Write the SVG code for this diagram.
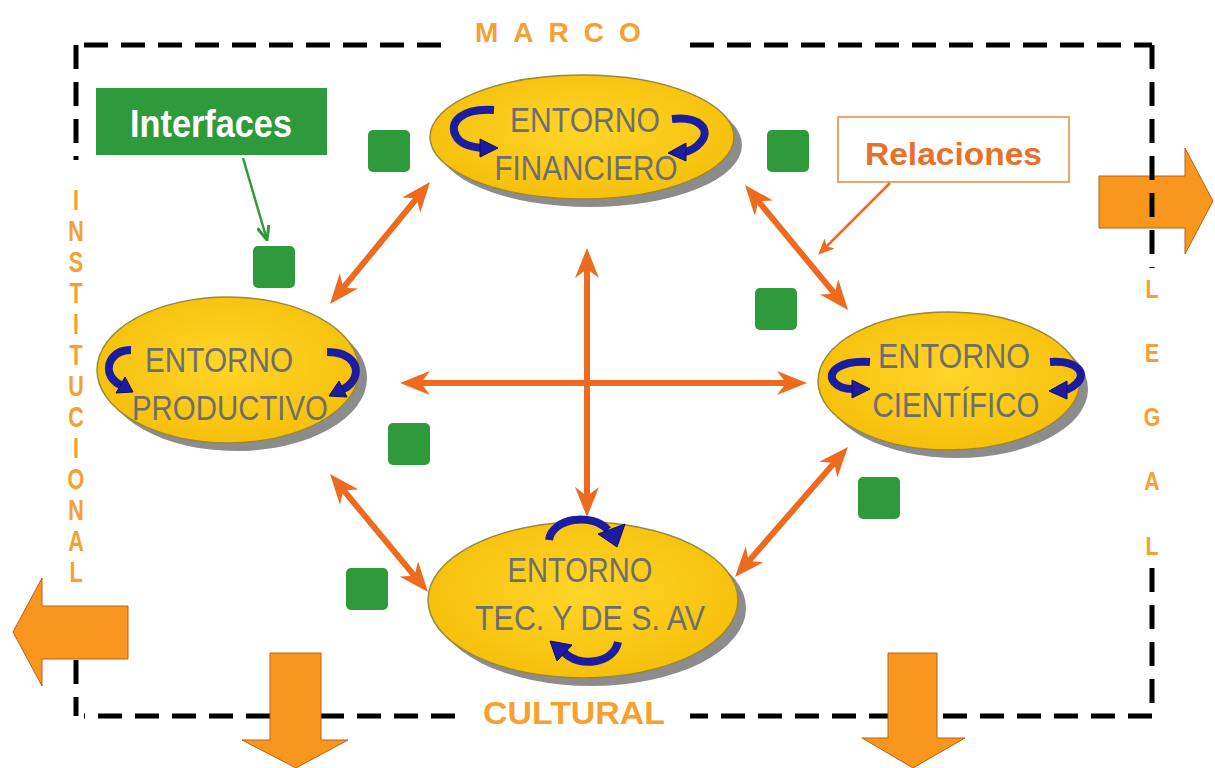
<svg xmlns="http://www.w3.org/2000/svg" width="1215" height="768" viewBox="0 0 1215 768">
<style>
.dash{fill:none;stroke:#000;stroke-width:5;stroke-dasharray:24 13}
.big{fill:#F8961E;stroke:#B8601A;stroke-width:1}
.shadow{fill:#8C8C8C}
.ell{fill:url(#gold);stroke:#9A8838;stroke-width:1.5}
.nt{font-family:"Liberation Sans Narrow","Liberation Sans",Arial,sans-serif;font-size:35px;fill:#6E6E6E;text-anchor:middle}
.curl{fill:none;stroke:#1C1CA0;stroke-width:8}
.curlh{fill:#1C1CA0;stroke:#0D0D60;stroke-width:1}
.rel{fill:none;stroke:#EE6A1E;stroke-width:6}
.sq{fill:#2E9A3C}
.frame{font-family:"Liberation Sans",Arial,sans-serif;font-weight:bold;fill:#F5A030}
</style>
<defs>
<radialGradient id="gold" cx="50%" cy="45%" r="60%">
<stop offset="0" stop-color="#FFD52A"/>
<stop offset="1" stop-color="#F5BE08"/>
</radialGradient>
<marker id="oa" viewBox="0 0 30 24" refX="18" refY="12" markerWidth="30" markerHeight="24" markerUnits="userSpaceOnUse" orient="auto-start-reverse">
<path d="M0,0 L30,12 L0,24 L9,12 Z" fill="#EE6A1E"/>
</marker>
<marker id="sa" viewBox="0 0 16 14" refX="12" refY="7" markerWidth="16" markerHeight="14" markerUnits="userSpaceOnUse" orient="auto">
<path d="M0,0 L16,7 L0,14 L4,7 Z" fill="#EE6A1E"/>
</marker>
<marker id="ga" viewBox="0 0 16 14" refX="15" refY="7" markerWidth="16" markerHeight="14" markerUnits="userSpaceOnUse" orient="auto">
<path d="M1,1 L15,7 L1,13" fill="none" stroke="#2E9A3C" stroke-width="3"/>
</marker>
</defs>
<rect width="1215" height="768" fill="#fff"/>

<g id="arrow-right"><polygon class="big" points="1099,176 1185,176 1185,148 1213,201 1185,254 1185,228 1099,228"/></g>

<g id="frame">
<path class="dash" d="M76,45 V160"/>
<path class="dash" d="M84,45 H445"/>
<path class="dash" d="M690,45 H1152"/>
<path class="dash" d="M1152,45 V268"/>
<path class="dash" d="M1152,568 V716 H690"/>
<path class="dash" d="M455,716 H84"/>
<path class="dash" d="M76,660 V716"/>
<text class="frame" x="475" y="42" font-size="28" letter-spacing="15">MARCO</text>
<text class="frame" x="483" y="724" font-size="31" textLength="182" lengthAdjust="spacingAndGlyphs">CULTURAL</text>
<text class="frame" font-size="30" transform="translate(76,0) scale(0.72,1)" text-anchor="middle"><tspan x="0" y="210">I</tspan><tspan x="0" y="241">N</tspan><tspan x="0" y="272">S</tspan><tspan x="0" y="303">T</tspan><tspan x="0" y="334">I</tspan><tspan x="0" y="365">T</tspan><tspan x="0" y="396">U</tspan><tspan x="0" y="427">C</tspan><tspan x="0" y="458">I</tspan><tspan x="0" y="489">O</tspan><tspan x="0" y="520">N</tspan><tspan x="0" y="551">A</tspan><tspan x="0" y="582">L</tspan></text>
<text class="frame" font-size="25" transform="translate(1152,0) scale(0.85,1)" text-anchor="middle"><tspan x="0" y="298">L</tspan><tspan x="0" y="362">E</tspan><tspan x="0" y="426">G</tspan><tspan x="0" y="490">A</tspan><tspan x="0" y="555">L</tspan></text>
</g>

<g id="arrow-left"><polygon class="big" points="128,606 42,606 42,578 13,632 42,686 42,659 128,659"/></g>
<g id="arrow-down-left"><polygon class="big" points="270,653 321,653 321,740 348,740 296,768 242,740 270,740"/></g>
<g id="arrow-down-right"><polygon class="big" points="888,653 937,653 937,738 965,738 913,768 862,738 888,738"/></g>

<g id="connectors">
<line class="rel" x1="422.4" y1="191.3" x2="337.6" y2="294.7" marker-start="url(#oa)" marker-end="url(#oa)"/>
<line class="rel" x1="752.6" y1="194.3" x2="840.4" y2="300.7" marker-start="url(#oa)" marker-end="url(#oa)"/>
<line class="rel" x1="587" y1="260" x2="587" y2="505" marker-start="url(#oa)" marker-end="url(#oa)"/>
<line class="rel" x1="412" y1="383" x2="795" y2="383" marker-start="url(#oa)" marker-end="url(#oa)"/>
<line class="rel" x1="337.7" y1="483.2" x2="420.3" y2="582.8" marker-start="url(#oa)" marker-end="url(#oa)"/>
<line class="rel" x1="840.1" y1="456.1" x2="742.9" y2="567.9" marker-start="url(#oa)" marker-end="url(#oa)"/>
<line x1="890" y1="183" x2="821" y2="252" stroke="#EE6A1E" stroke-width="2.5" marker-end="url(#sa)"/>
<line x1="243" y1="158" x2="267" y2="240" stroke="#2E9A3C" stroke-width="2.5" marker-end="url(#ga)"/>
</g>

<g id="interfaces">
<rect x="96" y="88" width="231" height="67" fill="#2E9A3C"/>
<text x="211" y="137" font-family="Liberation Sans Narrow,Liberation Sans,Arial,sans-serif" font-weight="bold" font-size="38" fill="#fff" text-anchor="middle" textLength="162" lengthAdjust="spacingAndGlyphs">Interfaces</text>
</g>

<g id="relaciones">
<rect x="838" y="117" width="231" height="65" fill="#fff" stroke="#E8893A" stroke-width="1.5"/>
<text x="953.5" y="165" font-family="Liberation Sans,Arial,sans-serif" font-weight="bold" font-size="32" fill="#E8702A" text-anchor="middle" textLength="177" lengthAdjust="spacingAndGlyphs">Relaciones</text>
</g>

<g id="interface-squares">
<rect class="sq" x="368" y="130" width="42" height="42" rx="5"/>
<rect class="sq" x="767" y="130" width="42" height="42" rx="5"/>
<rect class="sq" x="253" y="246" width="42" height="42" rx="5"/>
<rect class="sq" x="755" y="288" width="42" height="42" rx="5"/>
<rect class="sq" x="388" y="423" width="42" height="42" rx="5"/>
<rect class="sq" x="858" y="477" width="42" height="42" rx="5"/>
<rect class="sq" x="346" y="568" width="42" height="42" rx="5"/>
</g>

<g id="entorno-financiero">
<ellipse class="shadow" cx="590" cy="145" rx="152" ry="62"/>
<ellipse class="ell" cx="582" cy="137" rx="152" ry="62"/>
<text class="nt" x="585" y="132" textLength="150" lengthAdjust="spacingAndGlyphs">ENTORNO</text>
<text class="nt" x="586" y="180" textLength="183" lengthAdjust="spacingAndGlyphs">FINANCIERO</text>
<path class="curl" d="M494,110 C462,108 448,122 456,136 C460,144 470,147 482,148"/>
<polygon class="curlh" points="480,139 498,148 480,157"/>
<path class="curl" d="M672,119 C700,116 712,130 700,143 C695,149 690,151 684,152"/>
<polygon class="curlh" points="686,143 668,153 686,161"/>
</g>

<g id="entorno-productivo">
<ellipse class="shadow" cx="236" cy="378" rx="131" ry="73"/>
<ellipse class="ell" cx="228" cy="370" rx="131" ry="73"/>
<text class="nt" x="219" y="372" textLength="148" lengthAdjust="spacingAndGlyphs">ENTORNO</text>
<text class="nt" x="230" y="420" textLength="196" lengthAdjust="spacingAndGlyphs">PRODUCTIVO</text>
<path class="curl" d="M131,350 C112,350 104,366 112,378 C115,382 118,384 121,385"/>
<polygon class="curlh" points="116,393 133,392 125,377"/>
<path class="curl" d="M327,352 C352,352 362,368 352,382 C349,386 346,388 343,389"/>
<polygon class="curlh" points="347,397 329,396 339,381"/>
</g>

<g id="entorno-cientifico">
<ellipse class="shadow" cx="957" cy="389" rx="131" ry="69"/>
<ellipse class="ell" cx="949" cy="381" rx="131" ry="69"/>
<text class="nt" x="954" y="368" textLength="152" lengthAdjust="spacingAndGlyphs">ENTORNO</text>
<text class="nt" x="956" y="417" textLength="167" lengthAdjust="spacingAndGlyphs">CIENTÍFICO</text>
<path class="curl" d="M870,362 C840,360 826,372 834,382 C838,387 845,389 853,389"/>
<polygon class="curlh" points="852,380 870,389 852,398"/>
<path class="curl" d="M1050,362 C1078,360 1088,374 1076,384 C1072,388 1068,389 1066,390"/>
<polygon class="curlh" points="1067,381 1049,391 1067,399"/>
</g>

<g id="entorno-tec">
<ellipse class="shadow" cx="591" cy="608" rx="155" ry="78"/>
<ellipse class="ell" cx="583" cy="600" rx="155" ry="78"/>
<text class="nt" x="580" y="582" textLength="145" lengthAdjust="spacingAndGlyphs">ENTORNO</text>
<text class="nt" x="590" y="630" textLength="230" lengthAdjust="spacingAndGlyphs">TEC. Y DE S. AV</text>
<path class="curl" d="M549,540 C552,518 592,512 608,530"/>
<polygon class="curlh" points="598,534 617,547 625,524"/>
<path class="curl" d="M618,642 C614,664 578,668 564,652"/>
<polygon class="curlh" points="572,645 550,641 557,661"/>
</g>
</svg>
